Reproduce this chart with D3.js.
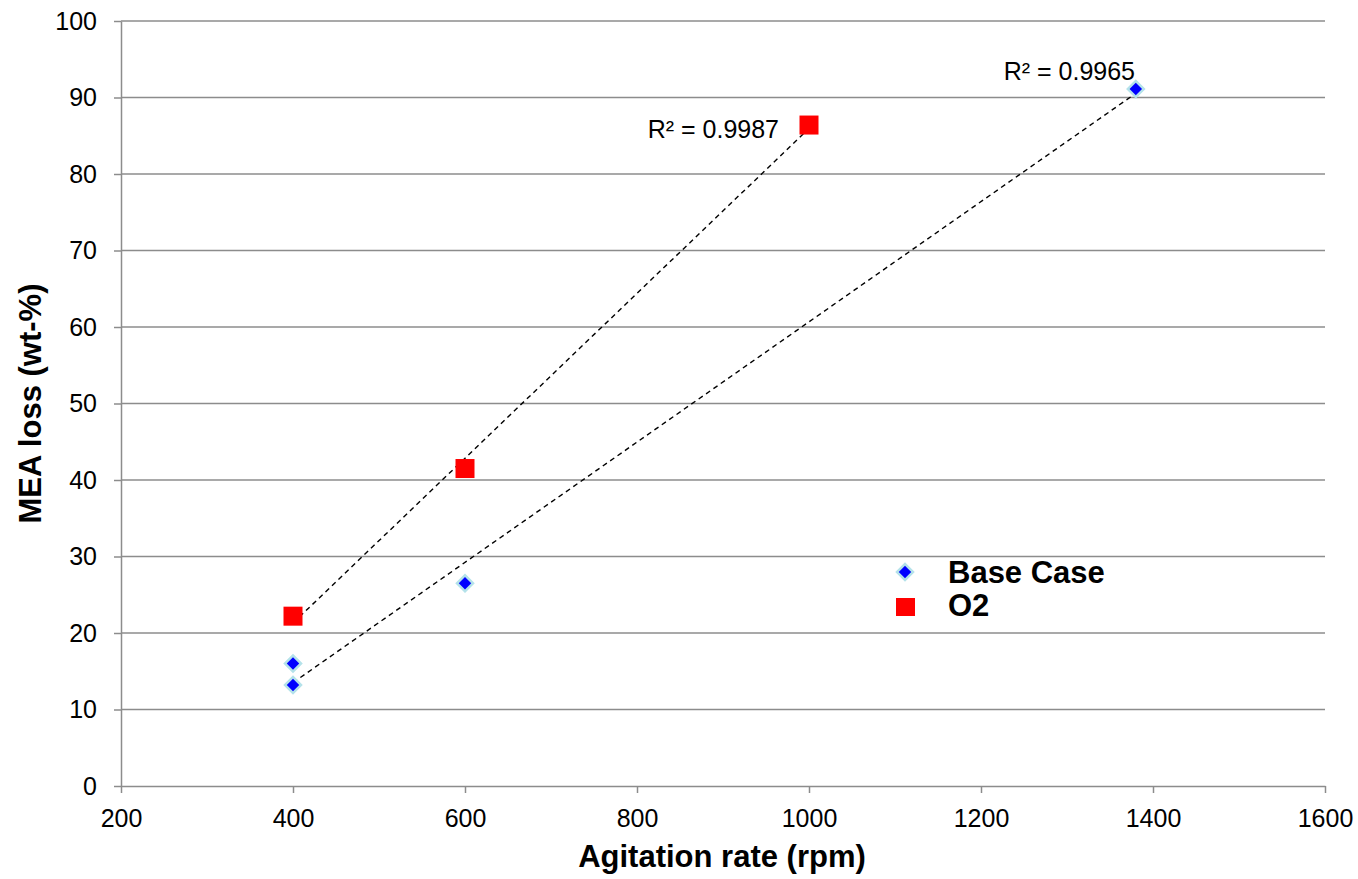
<!DOCTYPE html>
<html>
<head>
<meta charset="utf-8">
<script src="https://cdn.jsdelivr.net/npm/d3@7/dist/d3.min.js"></script>
<style>
  body { margin: 0; background: #fff; }
  svg { display: block; font-family: Arial, "Liberation Sans", sans-serif; }
</style>
</head>
<body>
<svg id="chart" width="1358" height="879"></svg>
<script>
// Agitation rate (rpm) and MEA loss (wt-%) for each series
const baseX = [400, 400, 600, 1380];
const baseY = [16.0, 13.2, 26.5, 91.1];
const o2X = [400, 600, 1000];
const o2Y = [22.2, 41.5, 86.4];

const xTicks = [200, 400, 600, 800, 1000, 1200, 1400, 1600];
const yTicks = [0, 10, 20, 30, 40, 50, 60, 70, 80, 90, 100];

const r2Labels = ["R\u00b2 = 0.9965", "R\u00b2 = 0.9987"];
const seriesNames = ["Base Case", "O2"];

const svg = d3.select("#chart");
const margin = { left: 121, right: 33, top: 21, bottom: 93 };
const W = 1358, H = 879;
const FONT = "Arial, 'Liberation Sans', sans-serif";

const x = d3.scaleLinear().domain([200, 1600]).range([margin.left, W - margin.right]);
const y = d3.scaleLinear().domain([0, 100]).range([H - margin.bottom, margin.top]);

// horizontal gridlines
svg.append("g").selectAll("line").data(yTicks.filter(d => d > 0)).join("line")
  .attr("x1", x(200)).attr("x2", x(1600))
  .attr("y1", d => y(d)).attr("y2", d => y(d))
  .attr("stroke", "#8c8c8c").attr("stroke-width", 1.5);

// axes
const fmt = d3.format("d");
const yAxis = svg.append("g").attr("transform", `translate(${x(200)},0)`)
  .call(d3.axisLeft(y).tickValues(yTicks).tickFormat(fmt).tickSize(7).tickPadding(17).tickSizeOuter(0));
const xAxis = svg.append("g").attr("transform", `translate(0,${y(0)})`)
  .call(d3.axisBottom(x).tickValues(xTicks).tickFormat(fmt).tickSize(7).tickPadding(16).tickSizeOuter(0));
[yAxis, xAxis].forEach(a => {
  a.attr("font-size", 25).attr("font-family", FONT);
  a.selectAll("path, line").attr("stroke", "#8c8c8c").attr("stroke-width", 1.5);
  a.selectAll("text").attr("fill", "#000");
});

// least-squares trendline drawn over the data's x range
function fit(xs, ys) {
  const n = xs.length;
  const mx = d3.mean(xs), my = d3.mean(ys);
  let sxy = 0, sxx = 0;
  for (let i = 0; i < n; i++) { sxy += (xs[i] - mx) * (ys[i] - my); sxx += (xs[i] - mx) ** 2; }
  const b = sxy / sxx, a = my - b * mx;
  const x0 = d3.min(xs), x1 = d3.max(xs);
  return [[x0, a + b * x0], [x1, a + b * x1]];
}
[fit(baseX, baseY), fit(o2X, o2Y)].forEach(seg => {
  svg.append("line")
    .attr("x1", x(seg[0][0])).attr("y1", y(seg[0][1]))
    .attr("x2", x(seg[1][0])).attr("y2", y(seg[1][1]))
    .attr("stroke", "#000").attr("stroke-width", 1.4)
    .attr("stroke-dasharray", "5,4");
});

// markers
function drawDiamond(g, cx, cy) {
  g.append("path").attr("d", d3.symbol().type(d3.symbolSquare).size(128)())
    .attr("transform", `translate(${cx},${cy}) rotate(45)`)
    .attr("fill", "#0000ff").attr("stroke", "#b4e2ea").attr("stroke-width", 2.5);
}
const mg = svg.append("g");
baseX.forEach((d, i) => drawDiamond(mg, x(d), y(baseY[i])));
mg.selectAll("rect.o2").data(o2X).join("rect")
  .attr("x", d => x(d) - 9.5).attr("y", (d, i) => y(o2Y[i]) - 9.5)
  .attr("width", 19).attr("height", 19).attr("fill", "#ff0000");

// R² labels
svg.append("text").attr("x", 1135).attr("y", 80).attr("text-anchor", "end")
  .attr("font-size", 25).text(r2Labels[0]);
svg.append("text").attr("x", 779).attr("y", 138).attr("text-anchor", "end")
  .attr("font-size", 25).text(r2Labels[1]);

// legend
const lg = svg.append("g");
drawDiamond(lg, 905, 572);
lg.append("rect").attr("x", 896).attr("y", 598).attr("width", 19).attr("height", 18).attr("fill", "#ff0000");
lg.append("text").attr("x", 948).attr("y", 583).attr("font-size", 31).attr("font-weight", "bold").text(seriesNames[0]);
lg.append("text").attr("x", 948).attr("y", 616).attr("font-size", 31).attr("font-weight", "bold").text(seriesNames[1]);

// axis titles
svg.append("text").attr("x", 722).attr("y", 867).attr("text-anchor", "middle")
  .attr("font-size", 31).attr("font-weight", "bold").text("Agitation rate (rpm)");
svg.append("text").attr("transform", `translate(41,${(y(0) + y(100)) / 2}) rotate(-90)`)
  .attr("text-anchor", "middle").attr("font-size", 31).attr("font-weight", "bold").text("MEA loss (wt-%)");
</script>
</body>
</html>
